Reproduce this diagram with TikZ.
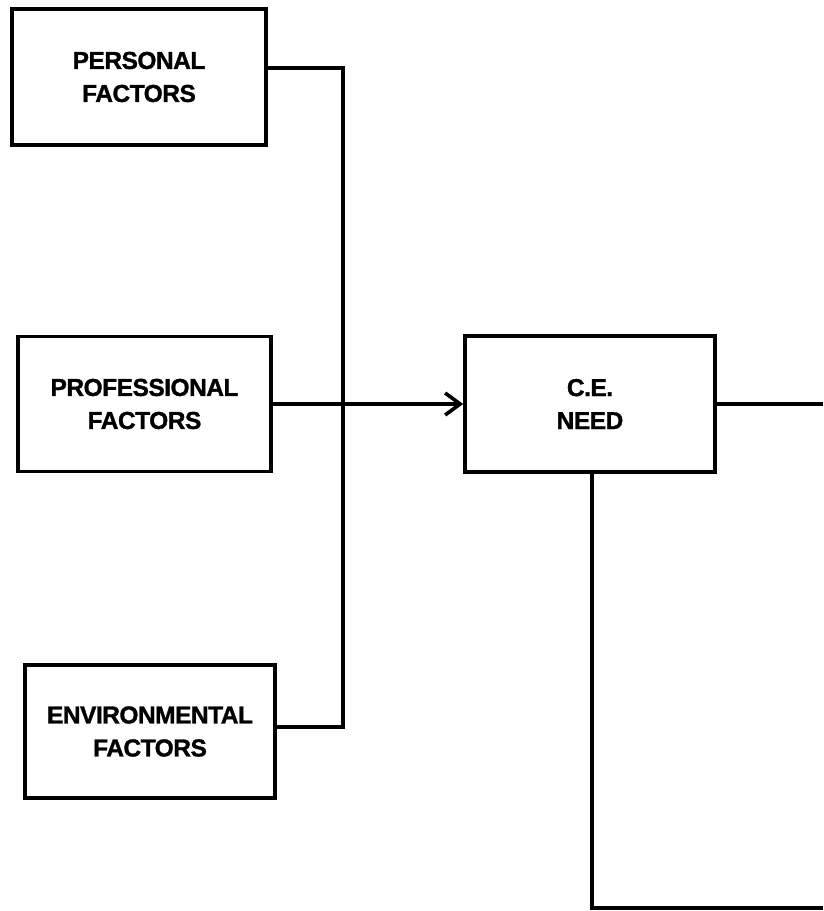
\documentclass[tikz,border=0pt]{standalone}
\usepackage{fontspec}
\setmainfont{Liberation Sans}[BoldFeatures={FakeBold=1.3, LetterSpace=-2}]
\usetikzlibrary{arrows.meta}

\tikzset{
  factorbox/.style={draw=black, line width=3.6pt, rectangle, align=center,
    font=\bfseries\fontsize{24.5}{33}\selectfont, inner sep=0pt},
  link/.style={draw=black, line width=3.2pt},
  feed/.style={link, -{Straight Barb[length=15pt, width=22pt, line width=3.6pt]}}
}

\begin{document}
\begin{tikzpicture}[x=1pt, y=-1pt]
  \useasboundingbox (0,0) rectangle (823,911);

  % input factors
  \node[factorbox, minimum width=254pt, minimum height=136pt] (personal) at (139,77)
    {PERSONAL\\FACTORS};
  \node[factorbox, minimum width=253pt, minimum height=135pt] (professional) at (144.5,404)
    {PROFESSIONAL\\FACTORS};
  \node[factorbox, minimum width=250pt, minimum height=133pt] (environmental) at (150,731.5)
    {ENVIRONMENTAL\\FACTORS};

  % central need
  \node[factorbox, minimum width=250pt, minimum height=136pt] (ce) at (590,404)
    {C.E.\\NEED};

  % junction points of the collecting trunk and the outgoing lines
  \coordinate (trunktop) at (343,68);
  \coordinate (trunkbot) at (343,727);
  \coordinate (rightend) at (823,402);
  \coordinate (corner) at (592,908);
  \coordinate (bottomend) at (823,908);

  % trunk joining personal and environmental factors
  \draw[link] (personal.east |- trunktop) -- (trunktop) -- (trunkbot)
    -- (environmental.east |- trunkbot);

  % professional factors into C.E. need
  \draw[feed] (professional.east) -- (ce.west);

  % outgoing lines
  \draw[link] (ce.east) -- (ce.east -| rightend);
  \draw[link] (ce.south -| corner) -- (corner) -- (bottomend);
\end{tikzpicture}
\end{document}
